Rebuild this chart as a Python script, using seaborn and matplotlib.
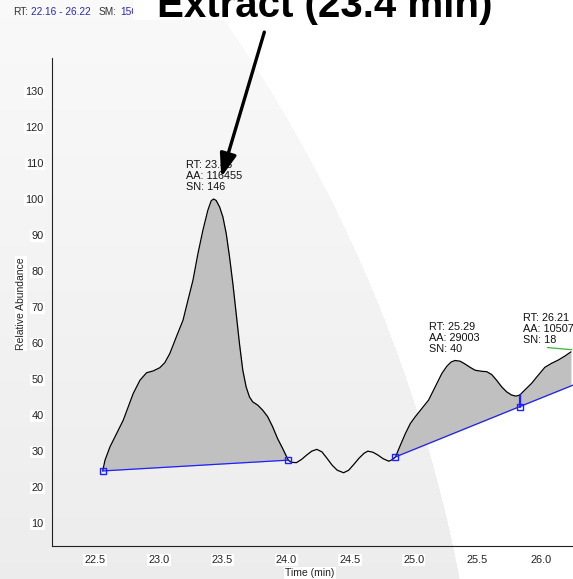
import numpy as np
import matplotlib
matplotlib.use("Agg")
import matplotlib.pyplot as plt
import seaborn as sns
from matplotlib.patches import Rectangle

# Chromatogram trace (retention time in min, relative abundance)
time_min = [22.560, 22.578, 22.617, 22.669, 22.721, 22.760, 22.799, 22.852, 22.904, 22.956,
            23.008, 23.047, 23.086, 23.138, 23.190, 23.229, 23.268, 23.307, 23.346, 23.385,
            23.411, 23.430, 23.450, 23.477, 23.503, 23.529, 23.555, 23.581, 23.607, 23.633,
            23.659, 23.685, 23.711, 23.737, 23.776, 23.815, 23.854, 23.893, 23.932, 23.971,
            24.016, 24.040, 24.080, 24.120, 24.160, 24.200, 24.240, 24.280, 24.320, 24.360,
            24.400, 24.450, 24.490, 24.530, 24.570, 24.610, 24.640, 24.680, 24.720, 24.760,
            24.805, 24.830, 24.857, 24.896, 24.935, 24.974, 25.013, 25.065, 25.117, 25.169,
            25.221, 25.260, 25.294, 25.325, 25.365, 25.404, 25.443, 25.482, 25.534, 25.573,
            25.612, 25.651, 25.690, 25.729, 25.768, 25.802, 25.833, 25.872, 25.924, 25.977,
            26.029, 26.081, 26.133, 26.185, 26.234]
abundance = [24.4, 27.4, 31.1, 34.8, 38.5, 42.2, 45.9, 49.6, 51.7, 52.2,
             53.1, 54.5, 57.0, 61.7, 66.3, 71.9, 77.4, 84.8, 91.3, 96.9,
             99.5, 100.0, 99.6, 97.8, 95.0, 90.4, 83.9, 76.5, 68.2, 59.8,
             52.4, 47.8, 45.0, 43.6, 42.7, 41.3, 39.5, 36.7, 33.4, 30.7,
             27.4, 26.8, 26.7, 27.6, 28.8, 29.9, 30.4, 29.7, 27.9, 26.0,
             24.6, 23.9, 24.6, 26.2, 27.9, 29.3, 29.9, 29.6, 28.8, 27.8,
             27.1, 27.5, 28.3, 31.6, 34.8, 37.6, 39.5, 41.8, 44.1, 47.8,
             51.5, 53.5, 54.7, 55.1, 54.9, 54.1, 53.2, 52.4, 52.1, 52.0,
             51.2, 49.6, 47.8, 46.4, 45.5, 45.2, 45.5, 46.9, 48.7, 51.0,
             53.2, 54.3, 55.2, 56.3, 57.5]

# Integration baselines
base1_t = [22.560, 24.016]
base1_v = [24.4, 27.4]
base2_t = [24.857, 25.833, 26.26]
base2_v = [28.3, 42.3, 48.4]
base3_t = [26.05, 26.24]
base3_v = [58.7, 58.1]
split_t = 25.833
split_v = [42.3, 45.5]

# Peak labels
peaks = [
    dict(rt="23.43", aa="116455", sn="146", x=23.216, y=110.9),
    dict(rt="25.29", aa="29003", sn="40", x=25.117, y=65.9),
    dict(rt="26.21", aa="10507", sn="18", x=25.86, y=68.4),
]

x_major = [22.5, 23.0, 23.5, 24.0, 24.5, 25.0, 25.5, 26.0]
y_major = list(range(10, 140, 10))

sns.set_theme(style="white")
plt.rcParams["font.family"] = ["Liberation Sans", "DejaVu Sans"]

W, H = 573, 579
fig = plt.figure(figsize=(W / 100, H / 100), dpi=100)
fig.patch.set_facecolor("white")

# Soft grey backdrop with a curved edge
bg = fig.add_axes([0, 0, 1, 1], zorder=-1)
yy, xx = np.mgrid[0:H, 0:W] + 0.5
cx, cy, R = -978.0, 855.0, 1464.0
inside = (xx - cx) ** 2 + (yy - cy) ** 2 < R ** 2
shade = 0.978 - 0.05 * (yy / H)
img = np.where(inside, shade, 1.0)
bg.imshow(np.dstack([img] * 3), aspect="auto", interpolation="nearest")
bg.axis("off")

ax = fig.add_axes([52 / W, 1 - 545.5 / H, (W - 52) / W, (545.5 - 58) / H])
ax.set_facecolor("none")

t = np.array(time_min)
v = np.array(abundance)

# Shaded peak areas
m1 = (t >= base1_t[0]) & (t <= base1_t[-1])
ax.fill_between(t[m1], v[m1], np.interp(t[m1], base1_t, base1_v),
                color="#c0c0c0", lw=0, zorder=1)
m2 = t >= base2_t[0]
ax.fill_between(t[m2], v[m2], np.interp(t[m2], base2_t, base2_v),
                color="#c0c0c0", lw=0, zorder=1)

sns.lineplot(x=t, y=v, color="black", lw=0.9, ax=ax, zorder=3)

blue = "#1f1fff"
ax.plot(base1_t, base1_v, color=blue, lw=0.9, zorder=4)
ax.plot(base2_t, base2_v, color=blue, lw=0.9, zorder=4)
ax.plot([split_t, split_t], split_v, color=blue, lw=1.6, zorder=4)
ax.plot(base3_t, base3_v, color="#3cb43c", lw=0.9, zorder=4)
ax.plot(base1_t + base2_t[:2], base1_v + base2_v[:2], ls="none", marker="s",
        ms=4.2, mfc="none", mec=blue, mew=1.0, zorder=5)

for p in peaks:
    ax.text(p["x"], p["y"], f"RT: {p['rt']}\nAA: {p['aa']}\nSN: {p['sn']}",
            fontsize=7.8, ha="left", va="top", linespacing=1.15,
            color="#111111", zorder=6)

ax.annotate("", xy=(23.49, 106.1), xytext=(23.828, 146.4),
            xycoords="data", textcoords="data", annotation_clip=False,
            arrowprops=dict(arrowstyle="-|>,head_length=1.4,head_width=0.5",
                            mutation_scale=10, lw=2.4, color="black",
                            shrinkA=0, shrinkB=0), zorder=7)

ax.set_xlim(22.162, 26.234)
ax.set_ylim(3.67, 139.2)
ax.set_xticks(x_major)
ax.set_xticklabels([f"{x:.1f}" for x in x_major])
ax.set_xticks(np.arange(22.2, 26.25, 0.05), minor=True)
ax.set_yticks(y_major)
ax.set_yticklabels([str(y) for y in y_major])
ax.set_yticks(np.arange(4, 139.5, 2), minor=True)

for side in ("top", "right"):
    ax.spines[side].set_visible(False)
for side in ("left", "bottom"):
    ax.spines[side].set_color("#222222")
    ax.spines[side].set_linewidth(0.8)

ax.tick_params(axis="both", which="major", direction="out", length=4,
               width=0.8, color="#222222", labelsize=7.9, labelcolor="#222222")
ax.tick_params(axis="both", which="minor", direction="out", length=2.2,
               width=0.7, color="#222222")
ax.tick_params(axis="x", which="major", pad=3)
ax.tick_params(axis="y", which="major", pad=2)

label_box = dict(boxstyle="square,pad=0.1", fc="white", ec="none")
for lbl in ax.get_xticklabels() + ax.get_yticklabels():
    lbl.set_bbox(label_box)

ax.set_xlabel("Time (min)", fontsize=7.5, color="#222222", bbox=label_box)
ax.xaxis.label.set_va("center")
ax.xaxis.set_label_coords(0.495, -0.0564)
ax.set_ylabel("Relative Abundance", fontsize=7.5, color="#222222", bbox=label_box)
ax.yaxis.label.set_va("center")
ax.yaxis.set_label_coords(-0.0595, 0.497)

# Header line
hy = 1 - 15 / H
fig.text(12.7 / W, hy, "RT:", fontsize=7.3, color="#333333", va="baseline", zorder=2)
fig.text(31 / W, hy, "22.16 - 26.22", fontsize=7.3, color="#2b2ba6", va="baseline", zorder=2)
fig.text(99 / W, hy, "SM:", fontsize=7.3, color="#333333", va="baseline", zorder=2)
fig.text(120.7 / W, hy, "15G", fontsize=7.3, color="#2b2ba6", va="baseline", zorder=2)

fig.patches.append(Rectangle((133 / W, 1 - 20 / H), 1 - 133 / W, 20 / H,
                             transform=fig.transFigure, fc="white", ec="none",
                             zorder=2.5))
fig.text(157 / W, 1 - 17 / H, "Extract (23.4 min)", fontsize=29,
         fontweight="bold", color="black", va="baseline", ha="left", zorder=3)

fig.savefig("out.png", dpi=100)
